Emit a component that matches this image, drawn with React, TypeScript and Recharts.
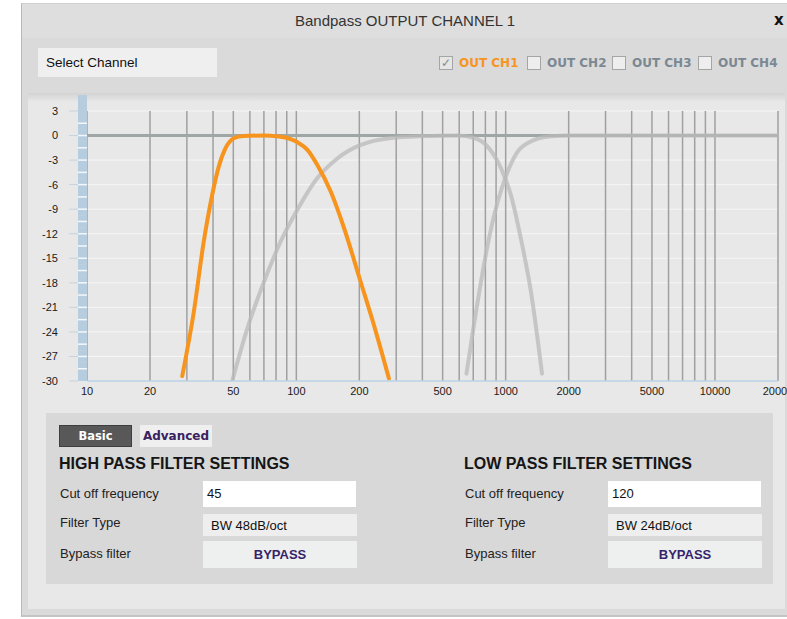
import React from 'react'
import { LineChart, Line, XAxis, YAxis, CartesianGrid } from 'recharts'

const xTicks = [10, 20, 50, 100, 200, 500, 1000, 2000, 5000, 10000, 20000]
const gridFreqs = [10, 20, 30, 40, 50, 60, 70, 80, 90, 100, 200, 300, 400, 500, 600, 700, 800, 900, 1000, 2000, 3000, 4000, 5000, 6000, 7000, 8000, 9000, 10000, 20000]
const dbLabels = [3, 0, -3, -6, -9, -12, -15, -18, -21, -24, -27, -30]
const rulerMarks = [3, 1.5, 0, -1.5, -3, -4.5, -6, -7.5, -9, -10.5, -12, -13.5, -15, -16.5, -18, -19.5, -21, -22.5, -24, -25.5, -27, -28.5, -30]

// OUT CH1 (selected, orange)
const ch1Freq = [28.5, 32.4, 36.1, 39.6, 42.6, 45.9, 50.3, 56, 70, 81, 90.6, 101, 113, 126, 146, 169, 203, 235, 277]
const ch1Gain = [-29.4, -21.5, -13.0, -7.3, -3.8, -1.55, -0.33, -0.05, 0, -0.1, -0.3, -0.8, -1.75, -3.6, -6.85, -11.3, -17.9, -23.2, -29.7]

// OUT CH2 (grey bandpass)
const ch2Freq = [49.4, 58.3, 70, 84, 101, 126, 157, 203, 300, 450, 589, 708, 820, 950, 1060, 1182, 1321, 1492]
const ch2Gain = [-30, -23.6, -17.9, -13.0, -9.1, -5.2, -2.8, -1.15, -0.25, -0.05, 0, -0.3, -1.35, -4.0, -7.3, -12.6, -19.1, -29.1]

// OUT CH3 (grey high pass)
const ch3Freq = [650, 735, 820, 916, 1023, 1141, 1370, 1648, 2000, 20000]
const ch3Gain = [-29.1, -20.3, -13.4, -8.1, -4.4, -1.96, -0.53, -0.08, 0, 0]

// OUT CH4 (flat)
const ch4Freq = [10, 20000]
const ch4Gain = [0, 0]

const channels = ['OUT CH1', 'OUT CH2', 'OUT CH3', 'OUT CH4']

const toPoints = (f: number[], g: number[]) => f.map((v, i) => ({ f: v, db: g[i] }))

const ORANGE = '#f7941e'
const GREY_CURVE = '#b9b9b9'
const font = '"Liberation Sans", Arial, sans-serif'
const boldFont = '"DejaVu Sans", Verdana, sans-serif'

function RulerTick(props: any) {
  const { x, y, payload, index } = props
  const v = payload.value
  const last = index === rulerMarks.length - 1
  const isLabel = dbLabels.includes(v)
  return (
    <g>
      <rect x={x + 20} y={y - 6.3} width={9} height={last ? 6.3 : 12.6} fill="#b6cde0" />
      {index === 0 && <rect x={x + 20} y={y - 16} width={9} height={16} fill="#b6cde0" />}
      {index > 0 && !last && <line x1={x + 20} x2={x + 29} y1={y} y2={y} stroke="#f4f8fb" strokeWidth={1.5} />}
      {isLabel && <line x1={x + 11} x2={x + 20} y1={y} y2={y} stroke="#c3d3df" strokeWidth={1} />}
      {isLabel && (
        <text x={x} y={y} dy="0.355em" textAnchor="end" fontSize={11} fill="#1a1a1a" fontFamily={font}>
          {v}
        </text>
      )}
    </g>
  )
}

function Settings({ left, title, cutoff, type }: { left: number; title: string; cutoff: string; type: string }) {
  const box = left + 144
  return (
    <>
      <div style={{ position: 'absolute', left, top: 454, fontSize: 16, fontWeight: 'bold', color: '#151515', fontFamily: font, lineHeight: '20px' }}>
        {title}
      </div>
      <div style={{ position: 'absolute', left: left + 1, top: 486, fontSize: 13, color: '#222', lineHeight: '16px' }}>Cut off frequency</div>
      <div style={{ position: 'absolute', left: left + 1, top: 515, fontSize: 13, color: '#222', lineHeight: '16px' }}>Filter Type</div>
      <div style={{ position: 'absolute', left: left + 1, top: 546, fontSize: 13, color: '#222', lineHeight: '16px' }}>Bypass filter</div>
      <div style={{ position: 'absolute', left: box, top: 481, width: 153, height: 26, background: '#fff', fontSize: 13, lineHeight: '26px', paddingLeft: 4, boxSizing: 'border-box', color: '#111' }}>
        {cutoff}
      </div>
      <div style={{ position: 'absolute', left: box, top: 514, width: 154, height: 22, background: '#eeeeee', fontSize: 13, lineHeight: '23px', paddingLeft: 8, boxSizing: 'border-box', color: '#111' }}>
        {type}
      </div>
      <div style={{ position: 'absolute', left: box, top: 541, width: 154, height: 27, background: '#eef0f0', fontSize: 13, lineHeight: '27px', textAlign: 'center', fontWeight: 'bold', color: '#36246a' }}>
        BYPASS
      </div>
    </>
  )
}

export default function App() {
  const ch1 = toPoints(ch1Freq, ch1Gain)
  const ch2 = toPoints(ch2Freq, ch2Gain)
  const ch3 = toPoints(ch3Freq, ch3Gain)
  const ch4 = toPoints(ch4Freq, ch4Gain)

  return (
    <div style={{ position: 'absolute', left: 0, top: 0, width: 787, height: 619, overflow: 'hidden', background: '#fff', fontFamily: font }}>
      {/* dialog frame */}
      <div style={{ position: 'absolute', left: 21, top: 3, width: 780, height: 614, background: '#dadada', borderLeft: '1px solid #b8b8b8', borderTop: '1px solid #d0d0d0', borderBottom: '2px solid #c4c4c4', boxSizing: 'border-box' }} />
      <div style={{ position: 'absolute', left: 22, top: 4, width: 780, height: 34, background: '#dedede' }} />
      <div style={{ position: 'absolute', left: 22, top: 4, width: 766, height: 34, textAlign: 'center', lineHeight: '34px', fontSize: 15, color: '#333' }}>
        Bandpass OUTPUT CHANNEL 1
      </div>
      <div style={{ position: 'absolute', left: 774, top: 11, fontSize: 15, fontWeight: 900, color: '#111', fontFamily: boldFont }}>x</div>

      {/* select channel */}
      <div style={{ position: 'absolute', left: 38, top: 48, width: 179, height: 29, background: '#efefef', fontSize: 13.5, lineHeight: '30px', paddingLeft: 8, boxSizing: 'border-box', color: '#111' }}>
        Select Channel
      </div>
      {channels.map((c, i) => {
        const lefts = [439, 527, 612, 698]
        const on = i === 0
        return (
          <React.Fragment key={c}>
            <div style={{ position: 'absolute', left: lefts[i], top: 56, width: 14, height: 14, background: on ? '#e6e6e6' : '#eeeeee', border: '1px solid #a5a5a5', boxSizing: 'border-box', fontSize: 12, lineHeight: '12px', textAlign: 'center', color: '#8a8a8a' }}>
              {on ? '✓' : ''}
            </div>
            <div style={{ position: 'absolute', left: lefts[i] + 20, top: 55, fontSize: 12, fontWeight: 'bold', fontFamily: boldFont, color: on ? ORANGE : '#7b8893', lineHeight: '16px', whiteSpace: 'nowrap' }}>
              {c}
            </div>
          </React.Fragment>
        )
      })}

      {/* content area */}
      <div style={{ position: 'absolute', left: 28, top: 93, width: 757, height: 516, background: 'linear-gradient(#d3d3d3 0px, #e8e8e8 9px, #e8e8e8 100%)' }} />

      <div style={{ position: 'absolute', left: 0, top: 93 }}>
        <LineChart width={787} height={312} margin={{ top: 18, right: 9, bottom: 4, left: 37 }}>
          <CartesianGrid vertical={false} horizontalValues={dbLabels} stroke="#f6f6f6" strokeWidth={1} />
          <CartesianGrid horizontal={false} verticalValues={gridFreqs} stroke="#a0a0a0" strokeWidth={1.5} />
          <XAxis
            type="number"
            dataKey="f"
            scale="log"
            domain={[10, 20000]}
            allowDataOverflow
            ticks={xTicks}
            interval={0}
            tickLine={false}
            tickSize={0}
            tickMargin={6}
            height={20}
            axisLine={{ stroke: '#b8d1e4', strokeWidth: 1.5 }}
            tick={{ fontSize: 11, fill: '#1a1a1a', fontFamily: font }}
          />
          <YAxis
            type="number"
            domain={[-30, 3]}
            allowDataOverflow
            ticks={rulerMarks}
            interval={0}
            width={50}
            tickLine={false}
            axisLine={false}
            tickSize={18}
            tickMargin={11}
            tick={<RulerTick />}
          />
          <Line data={ch4} dataKey="db" type="linear" stroke="#9ea6a6" strokeWidth={3} dot={false} isAnimationActive={false} />
          <Line data={ch2} dataKey="db" type="monotone" stroke={GREY_CURVE} strokeOpacity={0.75} strokeWidth={4} strokeLinecap="round" dot={false} isAnimationActive={false} />
          <Line data={ch3} dataKey="db" type="monotone" stroke={GREY_CURVE} strokeOpacity={0.75} strokeWidth={4} strokeLinecap="round" dot={false} isAnimationActive={false} />
          <Line data={ch1} dataKey="db" type="monotone" stroke={ORANGE} strokeWidth={4} strokeLinecap="round" dot={false} isAnimationActive={false} />
        </LineChart>
      </div>

      {/* settings panel */}
      <div style={{ position: 'absolute', left: 46, top: 413, width: 727, height: 171, background: '#d8d8d8' }} />
      <div style={{ position: 'absolute', left: 59, top: 425, width: 73, height: 22, background: '#585858', border: '1px solid #3e3e3e', boxSizing: 'border-box', color: '#fff', fontFamily: boldFont, fontWeight: 'bold', fontSize: 11.5, lineHeight: '20px', textAlign: 'center' }}>
        Basic
      </div>
      <div style={{ position: 'absolute', left: 140, top: 425, width: 72, height: 22, background: '#efefef', color: '#3a2260', fontFamily: boldFont, fontWeight: 'bold', fontSize: 12, lineHeight: '22px', textAlign: 'center' }}>
        Advanced
      </div>
      <Settings left={59} title="HIGH PASS FILTER SETTINGS" cutoff="45" type="BW 48dB/oct" />
      <Settings left={464} title="LOW PASS FILTER SETTINGS" cutoff="120" type="BW 24dB/oct" />
    </div>
  )
}
